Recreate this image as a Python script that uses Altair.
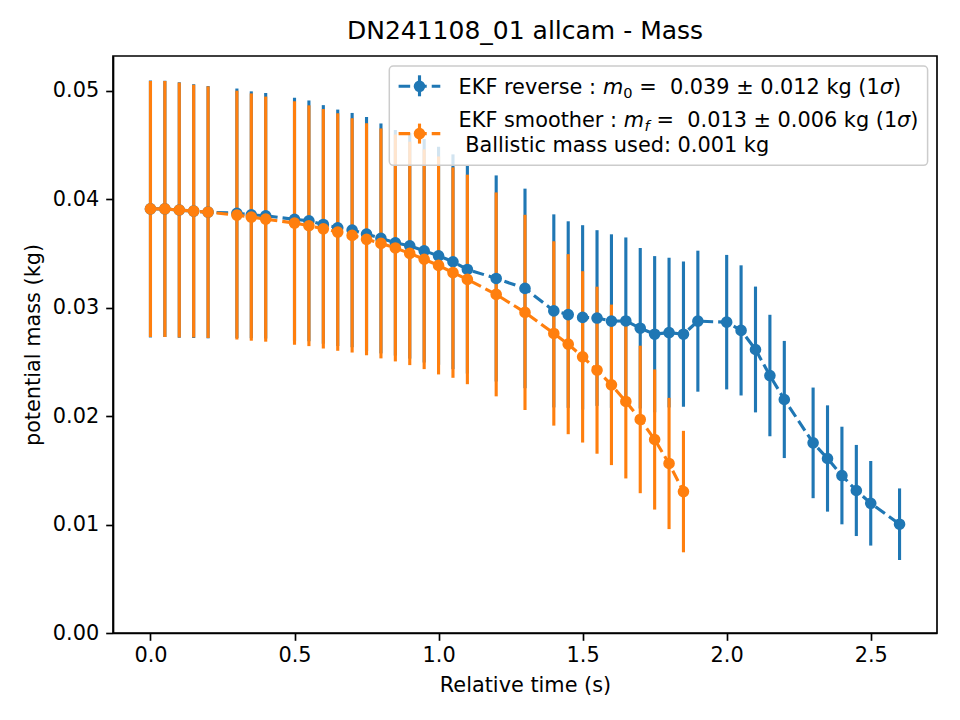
import altair as alt
import pandas as pd

# ---- data ----
t_rev = [0.0, 0.05, 0.1, 0.15, 0.2, 0.3, 0.35, 0.4, 0.5, 0.55, 0.6, 0.65, 0.7, 0.75, 0.8,
         0.85, 0.9, 0.95, 1.0, 1.05, 1.1, 1.2, 1.3, 1.4, 1.45, 1.5, 1.55, 1.6, 1.65, 1.7,
         1.75, 1.8, 1.85, 1.9, 2.0, 2.05, 2.1, 2.15, 2.2, 2.3, 2.35, 2.4, 2.45, 2.5, 2.6]
m_rev = [0.0391, 0.0391, 0.0390, 0.0389, 0.0388, 0.0387, 0.03856, 0.03847, 0.03814, 0.0380,
         0.03767, 0.03736, 0.03715, 0.03678, 0.03638, 0.03598, 0.0357, 0.03524, 0.03478,
         0.03423, 0.03352, 0.03269, 0.03177, 0.0297, 0.02936, 0.0291, 0.02904, 0.02876,
         0.02877, 0.0281, 0.02755, 0.0277, 0.02755, 0.02875, 0.02866, 0.0279, 0.02614,
         0.02374, 0.02153, 0.01753, 0.01609, 0.01452, 0.01314, 0.01196, 0.01003]
s_rev = [0.01185, 0.01182, 0.01178, 0.0117, 0.01163, 0.0115, 0.01138, 0.01132, 0.0112, 0.0111,
         0.011, 0.0109, 0.0108, 0.0108, 0.0106, 0.0104, 0.0104, 0.0103, 0.01005, 0.0099,
         0.0096, 0.0095, 0.0092, 0.0089, 0.0086, 0.0085, 0.0081, 0.008, 0.0077, 0.0074,
         0.0072, 0.0069, 0.0067, 0.0065, 0.0062, 0.006, 0.0058, 0.0056, 0.0054, 0.0051,
         0.0049, 0.0045, 0.0042, 0.0039, 0.0033]

t_smo = t_rev[:33]
m_smo = [0.0391, 0.0391, 0.0390, 0.0389, 0.0388, 0.03853, 0.03835, 0.03816, 0.0378, 0.03755,
         0.03727, 0.03697, 0.03666, 0.0363, 0.03592, 0.0355, 0.035, 0.03446, 0.03389,
         0.03323, 0.0326, 0.03122, 0.02956, 0.02762, 0.02663, 0.02546, 0.02423, 0.02288,
         0.02135, 0.01969, 0.01784, 0.01563, 0.01304]
s_smo = [0.0118, 0.0118, 0.01175, 0.01165, 0.0116, 0.01147, 0.0114, 0.0113, 0.01122, 0.0111,
         0.01104, 0.01095, 0.0108, 0.0107, 0.0106, 0.01046, 0.0103, 0.01013, 0.01005, 0.0097,
         0.00966, 0.0094, 0.009, 0.0085, 0.0083, 0.0079, 0.0077, 0.0074, 0.0071, 0.0068,
         0.00646, 0.00605, 0.0056]

x_ticks = [0.0, 0.5, 1.0, 1.5, 2.0, 2.5]
y_ticks = [0.0, 0.01, 0.02, 0.03, 0.04, 0.05]

BLUE = "#1f77b4"
ORANGE = "#ff7f0e"
FONT = "DejaVu Sans"
FS = 20.83
LW = 3.125
DASH = [11.56, 5]
MSIZE = 135


def frame(t, m, s):
    df = pd.DataFrame({"t": t, "m": m, "s": s})
    df["lo"] = df["m"] - df["s"]
    df["hi"] = df["m"] + df["s"]
    return df


rev = frame(t_rev, m_rev, s_rev)
smo = frame(t_smo, m_smo, s_smo)

xs = alt.Scale(domain=[-0.13, 2.73], nice=False, zero=False)
ys = alt.Scale(domain=[0, 0.0532], nice=False, zero=False)

xax = alt.Axis(values=x_ticks, format=".1f", title="Relative time (s)", grid=False,
               labelPadding=5, titlePadding=10, labelFlush=False)
yax = alt.Axis(values=y_ticks, format=".2f", title="potential mass (kg)", grid=False,
               labelPadding=7, titlePadding=9)


def bars(df, color):
    return alt.Chart(df).mark_rule(color=color, strokeWidth=LW).encode(
        x=alt.X("t:Q", scale=xs, axis=xax),
        y=alt.Y("lo:Q", scale=ys, axis=yax),
        y2="hi:Q",
    )


def line(df, color):
    return alt.Chart(df).mark_line(color=color, strokeWidth=LW, strokeDash=DASH).encode(
        x=alt.X("t:Q", scale=xs, axis=xax),
        y=alt.Y("m:Q", scale=ys, axis=yax),
    )


def pts(df, color):
    return alt.Chart(df).mark_point(filled=True, color=color, size=MSIZE, opacity=1).encode(
        x=alt.X("t:Q", scale=xs, axis=xax),
        y=alt.Y("m:Q", scale=ys, axis=yax),
    )


one = pd.DataFrame({"k": [0]})


def txt(s, x, y, size=FS, style="normal"):
    return alt.Chart(one).mark_text(
        text=s, font=FONT, fontSize=size, fontStyle=style, align="left",
        baseline="alphabetic", color="black"
    ).encode(x=alt.value(x), y=alt.value(y))


legend_box = alt.Chart(one).mark_rect(
    fill="white", fillOpacity=0.8, stroke="#cccccc", strokeWidth=1.5, cornerRadius=4
).encode(x=alt.value(276.3), x2=alt.value(814.6), y=alt.value(10), y2=alt.value(109.3))


def handle(color, yc, y1, y2):
    dash = alt.Chart(one).mark_rule(color=color, strokeWidth=LW, strokeDash=DASH).encode(
        x=alt.value(285.6), x2=alt.value(327.3), y=alt.value(yc))
    bar = alt.Chart(one).mark_rule(color=color, strokeWidth=LW).encode(
        x=alt.value(306.5), y=alt.value(y1), y2=alt.value(y2))
    dot = alt.Chart(one).mark_point(filled=True, color=color, size=MSIZE, opacity=1).encode(
        x=alt.value(306.5), y=alt.value(yc))
    return [dash, bar, dot]


SUB = FS * 0.7
legend_layers = [legend_box]
legend_layers += handle(BLUE, 30.3, 19.3, 40.3)
legend_layers += handle(ORANGE, 77.6, 67.6, 87.6)
legend_layers += [
    txt("EKF reverse :", 345.6, 37.6),
    txt("m", 490.0, 37.6, style="italic"),
    txt("0", 510.3, 41.6, size=SUB),
    txt("=", 526.2, 37.6),
    txt("0.039 ± 0.012 kg (1", 556.9, 37.6),
    txt("σ", 766.8, 37.6, style="italic"),
    txt(")", 780.0, 37.6),
    txt("EKF smoother :", 345.6, 71.0),
    txt("m", 510.7, 71.0, style="italic"),
    txt("f", 531.5, 75.0, size=SUB, style="italic"),
    txt("=", 543.6, 71.0),
    txt("0.013 ± 0.006 kg (1", 574.3, 71.0),
    txt("σ", 784.1, 71.0, style="italic"),
    txt(")", 797.3, 71.0),
    txt("Ballistic mass used: 0.001 kg", 352.2, 96.0),
]

chart = alt.layer(
    bars(rev, BLUE), bars(smo, ORANGE),
    line(rev, BLUE), pts(rev, BLUE),
    line(smo, ORANGE), pts(smo, ORANGE),
    *legend_layers,
).properties(
    width=824, height=577,
    background="white",
    title=alt.TitleParams("DN241108_01 allcam - Mass", font=FONT, fontSize=25,
                          fontWeight="normal", color="black", anchor="middle",
                          frame="group", offset=12),
    padding={"left": 113, "top": 56, "right": 23, "bottom": 87},
    autosize=alt.AutoSizeParams(type="none"),
).configure_view(
    stroke="black", strokeWidth=1.67
).configure_axis(
    labelFont=FONT, titleFont=FONT, labelFontSize=FS, titleFontSize=FS,
    titleFontWeight="normal", labelColor="black", titleColor="black",
    tickColor="black", tickSize=7.3, tickWidth=1.67,
    domainColor="black", domainWidth=1.67,
)

chart.save("out.html", embed_options={"renderer": "svg", "actions": False})
